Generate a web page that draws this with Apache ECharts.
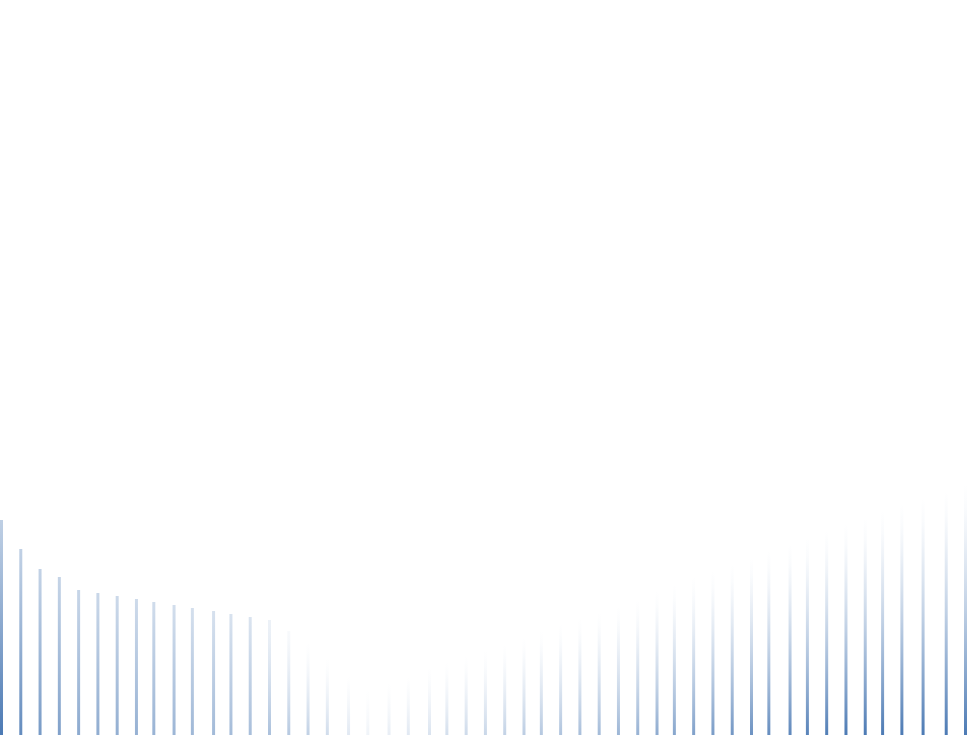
<!DOCTYPE html>
<html>
<head>
<meta charset="utf-8">
<script src="https://cdn.jsdelivr.net/npm/echarts@6/dist/echarts.min.js"></script>
<style>
html,body{margin:0;padding:0;background:#ffffff;}
#chart{width:967px;height:735px;}
</style>
</head>
<body>
<div id="chart"></div>
<script>
// x positions of the bars (irregular spacing, in index units)
var xValues = [0, 1.0, 2.0, 3.0, 4.0, 5.0, 6.0, 7.0, 7.9, 8.95, 9.9, 11.0, 11.9, 12.9, 13.9, 14.9, 15.9, 16.9, 18.0, 19.0,
  20.1, 21.1, 22.2, 23.1, 24.1, 25.1, 26.1, 27.1, 28.0, 29.0, 30.0, 31.0, 32.0, 33.0, 34.0, 34.9, 35.9, 36.9, 37.9, 38.9,
  39.8, 40.9, 41.8, 42.8, 43.8, 44.8, 45.7, 46.7, 47.8, 49.0, 50.0];
// bar values
var barValues = [215, 186, 166, 158, 145, 142, 139, 136, 133, 130, 127, 124, 121, 118, 115, 104, 93, 78, 61, 46,
  54, 61, 68, 74, 80, 85, 91, 98, 105, 111, 117, 123, 129, 135, 144, 151, 158, 164, 171, 177,
  184, 191, 197, 204, 211, 217, 224, 231, 237, 244, 251];

var base = [76, 122, 180];
function rgba(a) { return 'rgba(' + base[0] + ',' + base[1] + ',' + base[2] + ',' + a.toFixed(3) + ')'; }
function bottomAlpha(v) {
  var t = Math.max(0, Math.min(1, (v - 45) / 165));
  return 0.08 + 0.92 * t;
}
function topAlpha(i) {
  if (i <= 13) return 0.36 - 0.012 * i;
  if (i === 14) return 0.1;
  if (i === 15) return 0.04;
  return 0;
}

var seriesData = xValues.map(function (x, i) {
  var v = barValues[i];
  var b = bottomAlpha(v), tp = topAlpha(i);
  var stops = [];
  [0, 0.1, 0.2, 0.35, 0.5, 0.65, 0.8, 1].forEach(function (k) {
    stops.push({ offset: k, color: rgba(tp + (b - tp) * Math.pow(k, tp > 0.15 ? 1.1 : 1.5)) });
  });
  return {
    value: [x, v],
    itemStyle: { color: new echarts.graphic.LinearGradient(0, 0, 0, 1, stops) }
  };
});

var chart = echarts.init(document.getElementById('chart'), null, { renderer: 'canvas' });
chart.setOption({
  animation: false,
  backgroundColor: '#ffffff',
  grid: { left: 1.5, right: 1.5, top: 0, bottom: 0, containLabel: false },
  xAxis: { type: 'value', min: 0, max: 50, show: false },
  yAxis: { type: 'value', min: 0, max: 735, show: false },
  series: [{
    type: 'bar',
    barWidth: 3,
    data: seriesData
  }]
});
</script>
</body>
</html>
